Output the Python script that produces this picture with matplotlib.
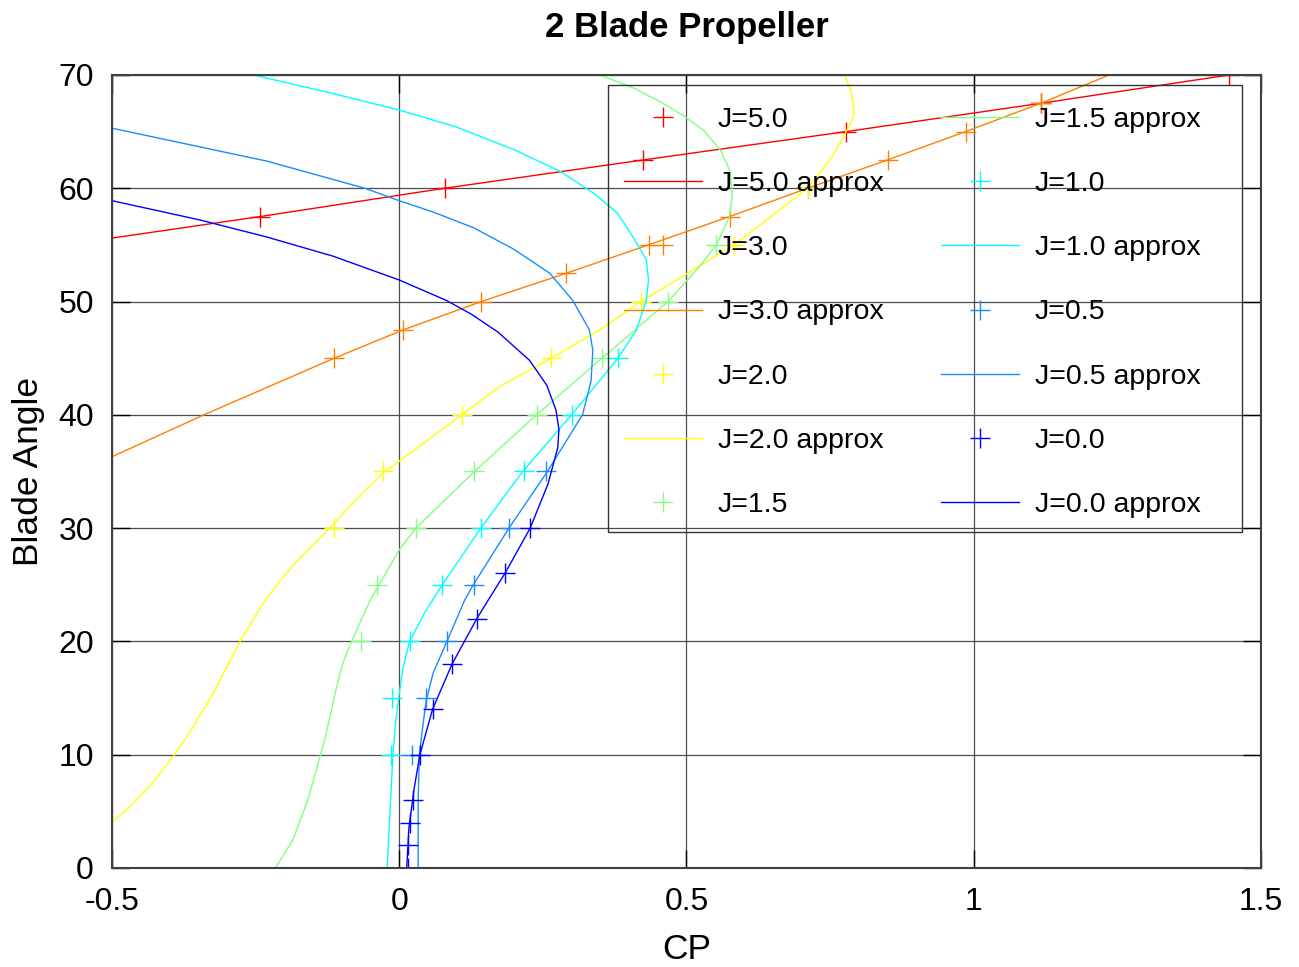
import matplotlib
matplotlib.use('Agg')
import matplotlib.pyplot as plt
from matplotlib.patches import Rectangle

plt.rcParams['font.family'] = ['Liberation Sans', 'DejaVu Sans']

# measured points (CP, blade angle) per advance ratio J
j50_cp = [-0.242, 0.079, 0.425, 0.778, 1.117, 1.445]
j50_ang = [57.5, 60, 62.5, 65, 67.5, 70]
j50a_cp = [-0.5, -0.242, 0.079, 0.425, 0.778, 1.117, 1.445, 1.52]
j50a_ang = [55.6, 57.5, 60.0, 62.5, 65.0, 67.5, 70.0, 70.5]

j30_cp = [-0.113, 0.007, 0.143, 0.291, 0.434, 0.575, 0.711, 0.850, 0.986, 1.117]
j30_ang = [45, 47.5, 50, 52.5, 55, 57.5, 60, 62.5, 65, 67.5]
j30a_cp = [-0.5, -0.34, -0.113, 0.007, 0.143, 0.291, 0.434, 0.575, 0.711, 0.850, 0.986, 1.117, 1.236]
j30a_ang = [36.3, 40, 45, 47.5, 50, 52.5, 55, 57.5, 60, 62.5, 65, 67.5, 70]

j20_cp = [-0.113, -0.028, 0.109, 0.265, 0.421, 0.583, 0.711]
j20_ang = [30, 35, 40, 45, 50, 55, 60]
j20a_cp = [-0.5, -0.463, -0.428, -0.391, -0.357, -0.324, -0.277, -0.256, -0.233, -0.205,
           -0.178, -0.121, -0.070, -0.025, 0.0, 0.109, 0.175, 0.265, 0.349, 0.421, 0.583,
           0.711, 0.754, 0.778, 0.790, 0.792, 0.786, 0.775]
j20a_ang = [4.0, 5.7, 7.6, 10, 12.6, 15.4, 20, 21.8, 23.65, 25.5,
            27.1, 30, 32.8, 35, 35.9, 40, 42.5, 45, 47.5, 50, 55,
            60, 62.8, 65, 66.2, 66.9, 68.7, 70]

j15_cp = [-0.066, -0.038, 0.029, 0.131, 0.239, 0.353, 0.468, 0.552]
j15_ang = [20, 25, 30, 35, 40, 45, 50, 55]
j15a_cp = [-0.214, -0.185, -0.159, -0.137, -0.127, -0.118, -0.109, -0.098, -0.083, -0.051, 0.0,
           0.029, 0.131, 0.239, 0.353, 0.468, 0.523, 0.552, 0.575, 0.580, 0.576, 0.560, 0.530,
           0.495, 0.459, 0.41, 0.349]
j15a_ang = [0.1, 2.5, 6.0, 10.0, 11.9, 13.9, 16.0, 18.1, 20, 23.6, 28.07,
            30, 35, 40, 45, 50, 53.1, 55, 57.5, 59.5, 61.5, 63.3, 65.1,
            66.4, 67.5, 68.8, 70]

j10_cp = [-0.014, -0.012, 0.018, 0.075, 0.142, 0.218, 0.301, 0.381]
j10_ang = [10, 15, 20, 25, 30, 35, 40, 45]
j10a_cp = [-0.021, -0.011, -0.006, -0.001, 0.006, 0.018, 0.045, 0.075, 0.142, 0.215, 0.300,
           0.381, 0.413, 0.430, 0.434, 0.430, 0.407, 0.380, 0.340, 0.280, 0.200, 0.100, 0.0,
           -0.127, -0.254]
j10a_ang = [0, 10, 13, 15, 17.5, 20, 22.6, 25, 30, 35, 40,
            45, 47.5, 50.1, 51.9, 53.7, 55.7, 57.8, 59.5, 61.5, 63.4, 65.4, 66.9,
            68.5, 70]

j05_cp = [0.023, 0.046, 0.084, 0.131, 0.191, 0.256]
j05_ang = [10, 15, 20, 25, 30, 35]
j05a_cp = [0.033, 0.033, 0.035, 0.041, 0.047, 0.059, 0.083, 0.114, 0.129, 0.191, 0.258,
           0.319, 0.334, 0.337, 0.331, 0.302, 0.262, 0.200, 0.130, 0.059, 0.0, -0.060,
           -0.231, -0.5]
j05a_ang = [0, 6, 10, 12.5, 14.8, 17.2, 20, 23.65, 25, 30, 35,
            40, 43, 45.7, 47.5, 50.1, 52.5, 54.6, 56.5, 57.9, 58.9, 60.0,
            62.4, 65.3]

j00_cp = [0.015, 0.015, 0.018, 0.024, 0.036, 0.059, 0.092, 0.135, 0.184, 0.228]
j00_ang = [0, 2, 4, 6, 10, 14, 18, 22, 26, 30]
j00a_cp = [0.013, 0.017, 0.026, 0.036, 0.058, 0.092, 0.135, 0.155, 0.184, 0.228, 0.259,
           0.276, 0.278, 0.273, 0.257, 0.227, 0.172, 0.125, 0.082, 0.0, -0.115, -0.231,
           -0.347, -0.5]
j00a_ang = [0, 3.6, 7, 10, 14, 18, 22, 23.65, 26, 30, 33.9,
            37.1, 38.7, 40.4, 42.6, 44.8, 47.3, 48.9, 50.1, 51.9, 54.0, 55.7,
            57.2, 58.9]

series = [
    ('J=5.0', '#ff0000', j50_cp, j50_ang, j50a_cp, j50a_ang),
    ('J=3.0', '#ff8000', j30_cp, j30_ang, j30a_cp, j30a_ang),
    ('J=2.0', '#ffff00', j20_cp, j20_ang, j20a_cp, j20a_ang),
    ('J=1.5', '#80ff80', j15_cp, j15_ang, j15a_cp, j15a_ang),
    ('J=1.0', '#00ffff', j10_cp, j10_ang, j10a_cp, j10a_ang),
    ('J=0.5', '#1a8cff', j05_cp, j05_ang, j05a_cp, j05a_ang),
    ('J=0.0', '#0000ff', j00_cp, j00_ang, j00a_cp, j00a_ang),
]

fig = plt.figure(figsize=(12.99, 9.67), dpi=100)
ax = fig.add_axes([0.0862, 0.1024, 0.8845, 0.8201])

for name, col, mx, my, lx, ly in series:
    ax.plot(mx, my, linestyle='none', marker='+', markersize=14.5, mew=1.0, color=col, label=name)
    ax.plot(lx, ly, linestyle='-', linewidth=1.0, color=col, label=name + ' approx')

ax.set_xlim(-0.5, 1.5)
ax.set_ylim(0, 70)
ax.set_xticks([-0.5, 0, 0.5, 1, 1.5])
ax.set_xticklabels(['-0.5', '0', '0.5', '1', '1.5'])
ax.set_yticks(range(0, 71, 10))
ax.tick_params(direction='in', length=13, width=1, top=True, right=True, labelsize=23)
ax.tick_params(axis='x', pad=14)
ax.tick_params(axis='y', pad=13)
ax.grid(True, color='0.3', linewidth=0.9)
for sp in ax.spines.values():
    sp.set_linewidth(1.5)
    sp.set_color('0.25')

ax.set_xlabel('CP', fontsize=25.5)
ax.xaxis.set_label_coords(0.5, -0.082)
ax.set_ylabel('Blade Angle', fontsize=25.5)
ax.yaxis.set_label_coords(-0.058, 0.5)
fig.text(0.5285, 0.972, '2 Blade Propeller', ha='center', va='center', fontsize=25, fontweight='bold')

leg = ax.legend(ncol=2, loc='upper left', bbox_to_anchor=(0.4308, 0.9811), borderaxespad=0,
                fontsize=20.5, handlelength=2.75, handletextpad=0.55, columnspacing=2.0,
                labelspacing=1.34, borderpad=0.6, frameon=False, numpoints=1)
# gnuplot key box: wider on the right than the entries need
ax.add_patch(Rectangle((0.4317, 0.4237), 0.5518, 0.5637, transform=ax.transAxes,
                       fill=False, edgecolor='0.2', linewidth=1.0, zorder=6, clip_on=False))

plt.savefig('out.png')
plt.close()
